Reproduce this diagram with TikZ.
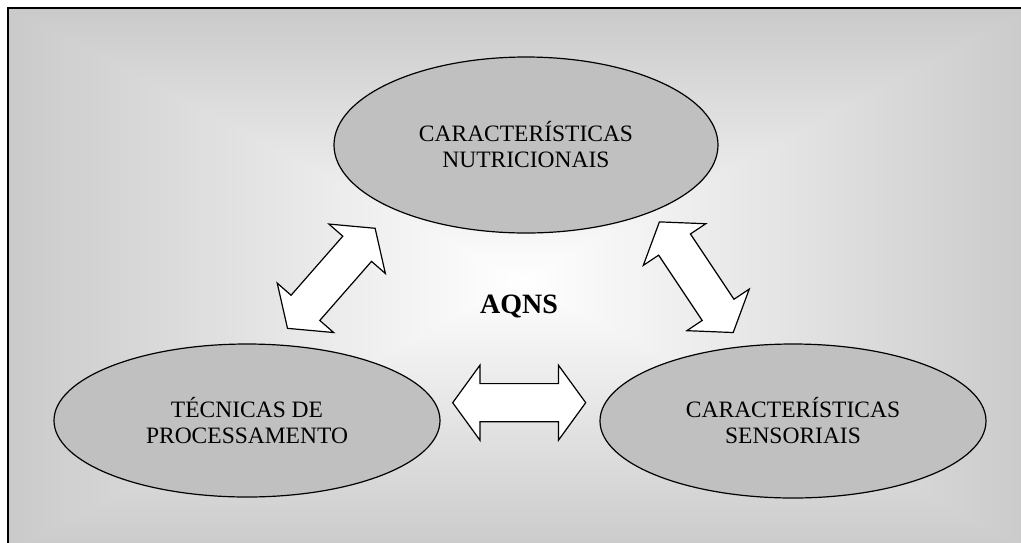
\documentclass[tikz,border=0pt]{standalone}
\usepackage{fontspec}
\setmainfont{Liberation Serif}
\usetikzlibrary{shapes.geometric,shapes.arrows}
\definecolor{bgedge}{RGB}{202,202,202}
\definecolor{ovalfill}{RGB}{192,192,192}
\tikzset{
  topic/.style={ellipse, draw=black, line width=1.2pt, fill=ovalfill,
    inner sep=0pt, align=center, font=\fontsize{23.5}{26}\selectfont},
  link/.style={double arrow, draw=black, line width=1.2pt, fill=white,
    text height=18.5pt, text depth=18.5pt, text width=0pt,
    minimum height=133pt,
    double arrow head extend=18.4pt, double arrow tip angle=108,
    inner sep=0pt},
}
\begin{document}
\begin{tikzpicture}[x=1pt,y=-1pt]
\useasboundingbox (0,0) rectangle (1021,542);

% rectangular "from centre" gradient: side halves first, then the
% top and bottom wedges laid over them so the diagonals show no seam
\coordinate (c) at (521,280);
\coordinate (tl) at (8,8);
\coordinate (tr) at (1034,8);
\coordinate (br) at (1034,552);
\coordinate (bl) at (8,552);
\shade[left color=bgedge, right color=white] (tl) rectangle (521,552);
\shade[left color=white, right color=bgedge] (521,8) rectangle (br);
\shade[top color=bgedge, bottom color=white] (tl) -- (tr) -- (c) -- cycle;
\shade[top color=white, bottom color=bgedge] (bl) -- (br) -- (c) -- cycle;

% frame
\draw[line width=2pt] (7.5,7.5) rectangle (1040,560);

% topics
\node[topic, minimum width=384pt, minimum height=176pt] (nut) at (526,145)
  {CARACTERÍSTICAS\\NUTRICIONAIS};
\node[topic, minimum width=386pt, minimum height=153pt] (tec) at (247,420.5)
  {TÉCNICAS DE\\PROCESSAMENTO};
\node[topic, minimum width=386pt, minimum height=154pt] (sen) at (793,421)
  {CARACTERÍSTICAS\\SENSORIAIS};

% centre label
\node[anchor=base, font=\fontsize{28}{32}\selectfont\bfseries] (aqns) at (519,313) {AQNS};

% two-way links between the topics
\node[link, rotate=48.8] (l1) at (331.3,278.3) {};
\node[link] (l2) at (519.2,402.7) {};
\node[link, rotate=123.7] (l3) at (696.3,277.2) {};
\end{tikzpicture}
\end{document}
